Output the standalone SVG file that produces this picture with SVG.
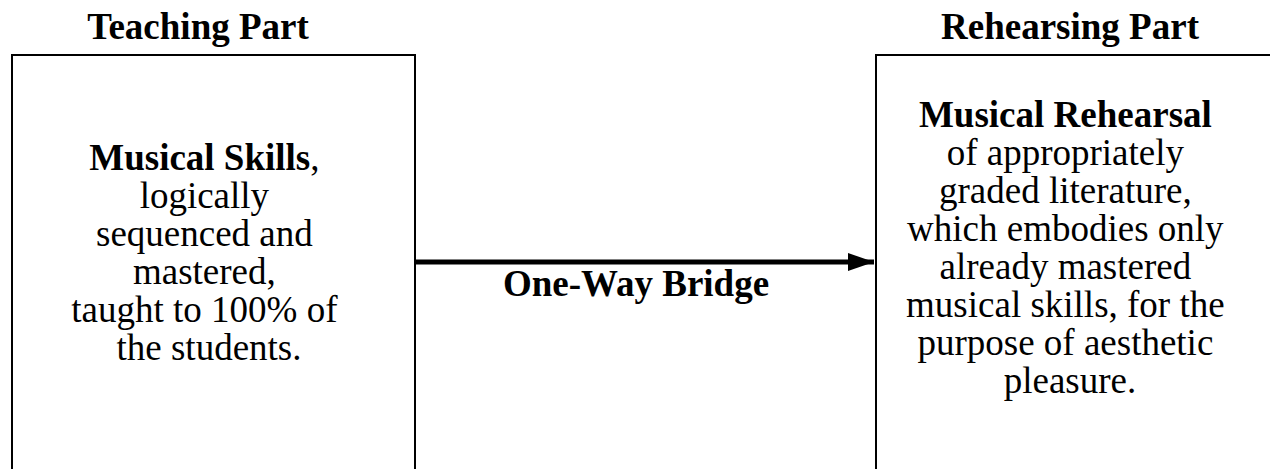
<svg xmlns="http://www.w3.org/2000/svg" width="1270" height="469" viewBox="0 0 1270 469">
  <style>
    .box { fill: #ffffff; stroke: #000000; stroke-width: 2; }
    .txt { font-family: "Liberation Serif", "Times New Roman", serif; font-size: 37px; fill: #000000; text-anchor: middle; }
    .b { font-weight: bold; }
    .link { stroke: #000000; stroke-width: 5; fill: none; }
  </style>
  <defs>
    <marker id="head" markerUnits="userSpaceOnUse" markerWidth="28" markerHeight="20" refX="26" refY="9" orient="auto">
      <polygon points="0,0 26,9 0,18" fill="#000000"/>
    </marker>
  </defs>
  <rect width="1270" height="469" fill="#ffffff"/>

  <!-- Teaching part -->
  <g id="teaching">
    <text class="txt b" x="198" y="39">Teaching Part</text>
    <rect class="box" x="12" y="55" width="403" height="430"/>
    <text class="txt" x="209">
      <tspan x="209" y="170"><tspan class="b">Musical Skills</tspan>,</tspan>
      <tspan x="209" y="208">logically</tspan>
      <tspan x="209" y="246">sequenced and</tspan>
      <tspan x="209" y="284">mastered,</tspan>
      <tspan x="209" y="322">taught to 100% of</tspan>
      <tspan x="209" y="360">the students.</tspan>
    </text>
  </g>

  <!-- Rehearsing part -->
  <g id="rehearsing">
    <text class="txt b" x="1070" y="39">Rehearsing Part</text>
    <rect class="box" x="876" y="55" width="420" height="430"/>
    <text class="txt" x="1070">
      <tspan class="b" x="1070" y="127">Musical Rehearsal</tspan>
      <tspan x="1070" y="165">of appropriately</tspan>
      <tspan x="1070" y="203">graded literature,</tspan>
      <tspan x="1070" y="241">which embodies only</tspan>
      <tspan x="1070" y="279">already mastered</tspan>
      <tspan x="1070" y="317">musical skills, for the</tspan>
      <tspan x="1070" y="355">purpose of aesthetic</tspan>
      <tspan x="1070" y="393">pleasure.</tspan>
    </text>
  </g>

  <!-- Connector -->
  <g id="connectors">
    <line class="link" x1="415" y1="262" x2="874" y2="262" marker-end="url(#head)"/>
    <text class="txt b" x="636" y="296">One-Way Bridge</text>
  </g>
</svg>
